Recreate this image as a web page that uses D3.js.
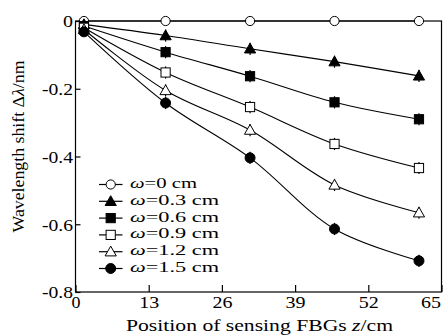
<!DOCTYPE html>
<html>
<head>
<meta charset="utf-8">
<script src="https://cdn.jsdelivr.net/npm/d3@7"></script>
<style>
	body { margin: 0; background: #fff; }
	svg { display: block; }
</style>
</head>
<body>
<svg id="chart" width="443" height="336"></svg>
<script>
// data
const positions = [1.5, 16, 31, 46, 61];
const widths = ["0", "0.3", "0.6", "0.9", "1.2", "1.5"];
const shift00 = [0, 0, 0, 0, 0];
const shift03 = [-0.01, -0.043, -0.082, -0.12, -0.162];
const shift06 = [-0.015, -0.092, -0.163, -0.24, -0.29];
const shift09 = [-0.02, -0.152, -0.254, -0.363, -0.434];
const shift12 = [-0.025, -0.205, -0.322, -0.484, -0.566];
const shift15 = [-0.032, -0.242, -0.404, -0.614, -0.708];
const errBar = 0.018;
const xTicks = [0, 13, 26, 39, 52, 65];
const yTicks = [0, -0.2, -0.4, -0.6, -0.8];
const yTickLabels = ["0", "-0.2", "-0.4", "-0.6", "-0.8"];

const seriesList = [
	{ w: widths[0], values: shift00, marker: "circle", filled: false },
	{ w: widths[1], values: shift03, marker: "triangle", filled: true },
	{ w: widths[2], values: shift06, marker: "square", filled: true },
	{ w: widths[3], values: shift09, marker: "square", filled: false },
	{ w: widths[4], values: shift12, marker: "triangle", filled: false },
	{ w: widths[5], values: shift15, marker: "circle", filled: true }
];

const margin = { top: 21, right: 1, bottom: 44, left: 75.5 };
const width = 443, height = 336;
const fontFamily = '"Liberation Serif", "DejaVu Serif", serif';

const svg = d3.select("#chart");

const x = d3.scaleLinear().domain([0, 65]).range([margin.left, width - margin.right - 0.5]);
const y = d3.scaleLinear().domain([-0.8, 0]).range([height - margin.bottom, margin.top]);

// text style helper (the original glyphs are a bit wider than Times, so stretch them)
const txt = (sel, size) => sel.style("font-family", fontFamily).style("font-size", size + "px").attr("fill", "#000");
const fit = (sel, len) => sel.attr("textLength", len).attr("lengthAdjust", "spacingAndGlyphs");

// frame
svg.append("rect")
	.attr("x", x(0)).attr("y", y(0))
	.attr("width", x(65) - x(0)).attr("height", y(-0.8) - y(0))
	.attr("fill", "none").attr("stroke", "#000").attr("stroke-width", 1.2);

// axes
const xAxis = g => g.attr("transform", `translate(0, ${y(-0.8)})`)
	.call(d3.axisBottom(x).tickValues(xTicks).tickSizeInner(-7).tickSizeOuter(0).tickPadding(5))
	.call(g => g.select(".domain").remove())
	.call(g => g.selectAll("line").attr("stroke-width", 1.2))
	.call(g => g.selectAll("text").call(txt, 16).attr("dy", "0.71em")
		.each(function(d) { fit(d3.select(this), d === 0 ? 9 : 20); }))
	.call(g => g.selectAll("text").filter(d => d === 65).attr("text-anchor", "end").attr("x", -1));

const yAxis = g => g.attr("transform", `translate(${x(0)}, 0)`)
	.call(d3.axisLeft(y).tickValues(yTicks).tickFormat((d, i) => yTickLabels[i]).tickSizeInner(-5).tickSizeOuter(0).tickPadding(2.5))
	.call(g => g.select(".domain").remove())
	.call(g => g.selectAll("line").attr("stroke-width", 1.2))
	.call(g => g.selectAll("text").call(txt, 16.5).attr("dy", "0.36em")
		.each(function(d) { fit(d3.select(this), d === 0 ? 10 : 31); }));

svg.append("g").call(xAxis);
svg.append("g").call(yAxis);

// axis titles
const xTitle = svg.append("text")
	.attr("x", 259.5).attr("y", 331)
	.attr("text-anchor", "middle")
	.call(txt, 17.5)
	.call(fit, 267);
xTitle.append("tspan").text("Position of sensing FBGs ");
xTitle.append("tspan").style("font-style", "italic").text("z");
xTitle.append("tspan").text("/cm");

const yTitle = svg.append("text")
	.attr("transform", `translate(24, 146.5) rotate(-90)`)
	.attr("text-anchor", "middle")
	.call(txt, 17.5)
	.call(fit, 172);
yTitle.append("tspan").text("Wavelength shift Δ");
yTitle.append("tspan").style("font-style", "italic").text("λ");
yTitle.append("tspan").text("/nm");

// marker drawing
function drawMarker(g, type, filled, cx, cy) {
	const fill = filled ? "#000" : "#fff";
	if (type === "circle") {
		g.append("circle").attr("cx", cx).attr("cy", cy).attr("r", filled ? 5 : 4.6)
			.attr("fill", fill).attr("stroke", "#000").attr("stroke-width", 1);
	} else if (type === "square") {
		g.append("rect").attr("x", cx - 4.6).attr("y", cy - 4.6).attr("width", 9.2).attr("height", 9.2)
			.attr("fill", fill).attr("stroke", "#000").attr("stroke-width", 1);
	} else {
		const s = 5.6;
		g.append("path")
			.attr("d", `M${cx},${cy - s} L${cx + s},${cy + s * 0.75} L${cx - s},${cy + s * 0.75} Z`)
			.attr("fill", fill).attr("stroke", "#000").attr("stroke-width", 1);
	}
}

const line = d3.line()
	.x(d => x(d.z))
	.y(d => y(d.v))
	.curve(d3.curveCatmullRom.alpha(0.5));

seriesList.forEach(s => {
	const pts = positions.map((z, i) => ({ z: z, v: s.values[i] }));
	const g = svg.append("g");
	g.append("path")
		.datum(pts)
		.attr("fill", "none")
		.attr("stroke", "#000")
		.attr("stroke-width", 1.1)
		.attr("d", line);
	pts.forEach((p, i) => {
		if (s.w !== "0" && i > 0) {
			g.append("line")
				.attr("x1", x(p.z)).attr("x2", x(p.z))
				.attr("y1", y(p.v - errBar)).attr("y2", y(p.v + errBar))
				.attr("stroke", "#000").attr("stroke-width", 1.2);
		}
		drawMarker(g, s.marker, s.filled, x(p.z), y(p.v));
	});
});

// legend
const legend = svg.append("g");
seriesList.forEach((s, i) => {
	const ly = 184.5 + i * 16.8;
	legend.append("line")
		.attr("x1", 99).attr("x2", 122.5).attr("y1", ly).attr("y2", ly)
		.attr("stroke", "#000").attr("stroke-width", 1.2);
	drawMarker(legend, s.marker, s.filled, 110.7, ly);
	const t = legend.append("text")
		.attr("x", 130).attr("y", ly + 3.5)
		.call(txt, 14.5)
		.call(fit, s.w === "0" ? 67 : 89);
	t.append("tspan").style("font-style", "italic").text("ω");
	t.append("tspan").text(`=${s.w} cm`);
});
</script>
</body>
</html>
